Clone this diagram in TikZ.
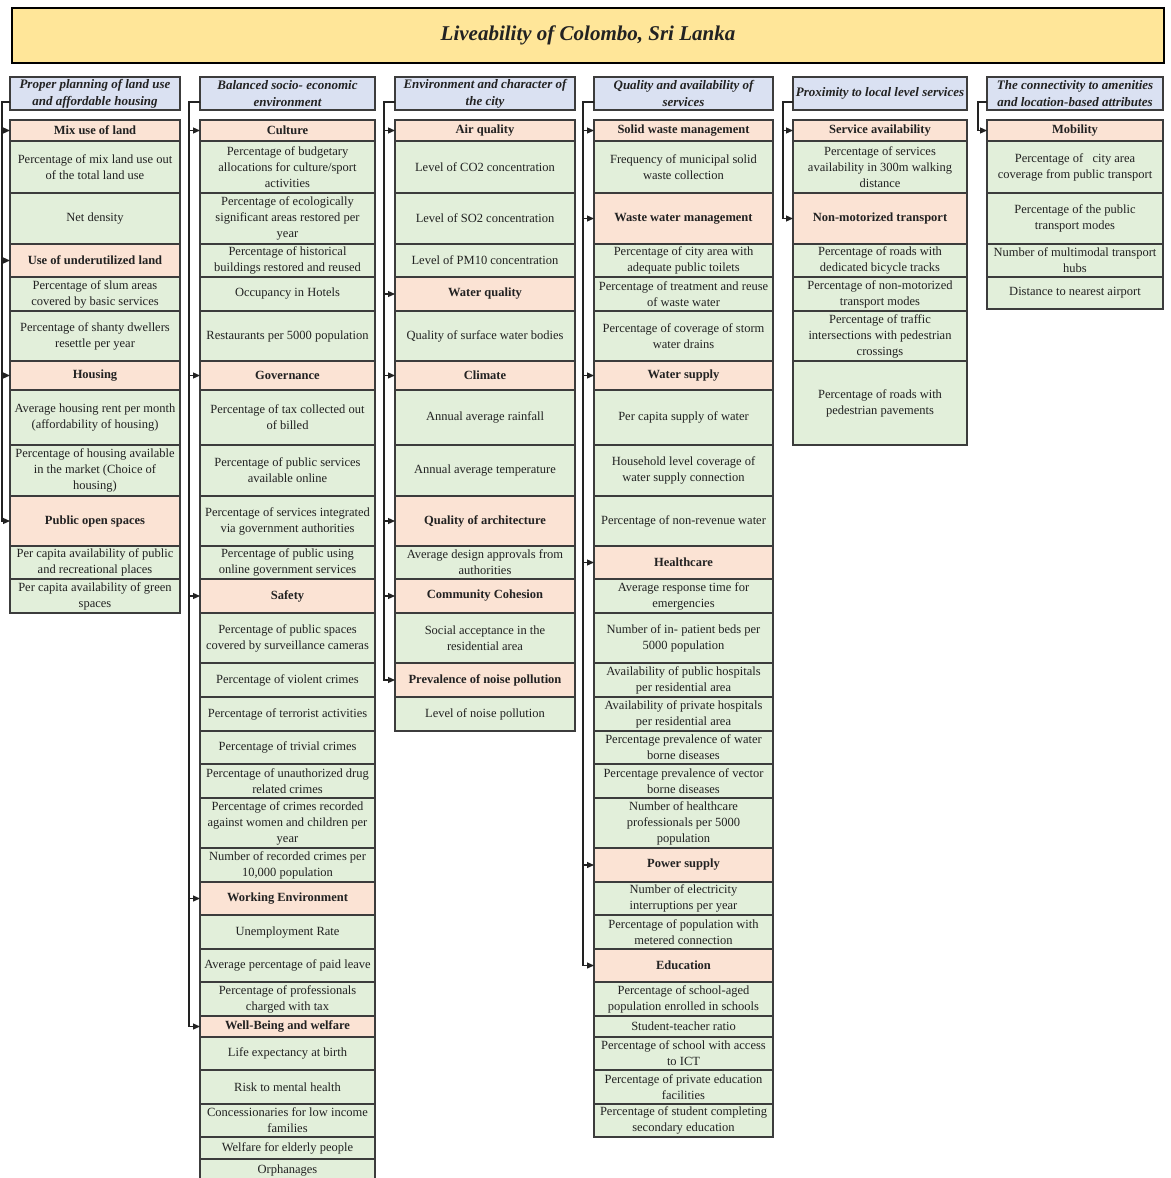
\documentclass[tikz,border=0pt]{standalone}
\usepackage{fontspec}
\setmainfont{Liberation Serif}
\usepackage{xcolor}
\usepackage{tikz}
\usetikzlibrary{arrows.meta,positioning}
\definecolor{TitleGold}{HTML}{FFE699}
\definecolor{HeadBlue}{HTML}{DAE1F2}
\definecolor{CatPeach}{HTML}{FBE3D4}
\definecolor{ItemGreen}{HTML}{E2EFDA}
\definecolor{EdgeGray}{HTML}{3C3C3C}
\definecolor{InkGray}{HTML}{222222}
\tikzset{
  titlebox/.style={draw=black,line width=1.8pt,fill=TitleGold,align=center,
              font=\fontsize{21}{25}\selectfont\bfseries\itshape,text=InkGray},
  headbox/.style={draw=EdgeGray,line width=1.2pt,fill=HeadBlue,align=center,
              minimum height=33,inner sep=0pt,outer sep=0pt,
              font=\fontsize{13}{17}\selectfont\bfseries\itshape,text=InkGray},
  catbox/.style={draw=EdgeGray,line width=1.2pt,fill=CatPeach,align=center,
              inner sep=0pt,outer sep=0pt,
              font=\fontsize{12.5}{16}\selectfont\bfseries,text=InkGray},
  itembox/.style={draw=EdgeGray,line width=1.2pt,fill=ItemGreen,align=center,
              inner sep=0pt,outer sep=0pt,
              font=\fontsize{12.5}{16}\selectfont,text=InkGray},
  ht/.style={minimum height=#1},
  flow/.style={-{Triangle[length=7pt,width=6pt]},line width=1.2pt,draw=InkGray}
}

\begin{document}
\begin{tikzpicture}[x=1pt,y=-1pt]
  \useasboundingbox (0,0) rectangle (1170,1178);

  \node[titlebox,minimum width=1152,minimum height=55] (title) at (588,35.5) {Liveability of Colombo, Sri Lanka};

  % column 1
  \begin{scope}[every node/.append style={minimum width=170}]
  \node[headbox] (h1) at (95,93.5) {Proper planning of land use\\and affordable housing};
  \node[catbox,ht=21,below=10pt of h1] (mixuse) {Mix use of land};
  \node[itembox,ht=52,below=0pt of mixuse] (mixpct) {Percentage of mix land use out\\of the total land use};
  \node[itembox,ht=51,below=0pt of mixpct] (netdens) {Net density};
  \node[catbox,ht=33,below=0pt of netdens] (underuse) {Use of underutilized land};
  \node[itembox,ht=34,below=0pt of underuse] (slum) {Percentage of slum areas\\covered by basic services};
  \node[itembox,ht=50,below=0pt of slum] (shanty) {Percentage of shanty dwellers\\resettle per year};
  \node[catbox,ht=29,below=0pt of shanty] (housing) {Housing};
  \node[itembox,ht=55,below=0pt of housing] (rent) {Average housing rent per month\\(affordability of housing)};
  \node[itembox,ht=51,below=0pt of rent] (choice) {Percentage of housing available\\in the market (Choice of\\housing)};
  \node[catbox,ht=50,below=0pt of choice] (openspace) {Public open spaces};
  \node[itembox,ht=33,below=0pt of openspace] (recplaces) {Per capita availability of public\\and recreational places};
  \node[itembox,ht=34,below=0pt of recplaces] (green) {Per capita availability of green\\spaces};
  \end{scope}

  % column 2
  \begin{scope}[every node/.append style={minimum width=175}]
  \node[headbox] (h2) at (287.5,93.5) {Balanced socio- economic\\environment};
  \node[catbox,ht=21,below=10pt of h2] (culture) {Culture};
  \node[itembox,ht=52,below=0pt of culture] (budget) {Percentage of budgetary\\allocations for culture/sport\\activities};
  \node[itembox,ht=51,below=0pt of budget] (ecolog) {Percentage of ecologically\\significant areas restored per\\year};
  \node[itembox,ht=33,below=0pt of ecolog] (historic) {Percentage of historical\\buildings restored and reused};
  \node[itembox,ht=34,below=0pt of historic] (hotels) {Occupancy in Hotels};
  \node[itembox,ht=50,below=0pt of hotels] (restaur) {Restaurants per 5000 population};
  \node[catbox,ht=29,below=0pt of restaur] (governance) {Governance};
  \node[itembox,ht=55,below=0pt of governance] (taxbill) {Percentage of tax collected out\\of billed};
  \node[itembox,ht=51,below=0pt of taxbill] (online) {Percentage of public services\\available online};
  \node[itembox,ht=50,below=0pt of online] (integr) {Percentage of services integrated\\via government authorities};
  \node[itembox,ht=33,below=0pt of integr] (egov) {Percentage of public using\\online government services};
  \node[catbox,ht=34,below=0pt of egov] (safety) {Safety};
  \node[itembox,ht=50,below=0pt of safety] (cctv) {Percentage of public spaces\\covered by surveillance cameras};
  \node[itembox,ht=34,below=0pt of cctv] (violent) {Percentage of violent crimes};
  \node[itembox,ht=34,below=0pt of violent] (terror) {Percentage of terrorist activities};
  \node[itembox,ht=33,below=0pt of terror] (trivial) {Percentage of trivial crimes};
  \node[itembox,ht=34,below=0pt of trivial] (drug) {Percentage of unauthorized drug\\related crimes};
  \node[itembox,ht=50,below=0pt of drug] (women) {Percentage of crimes recorded\\against women and children per\\year};
  \node[itembox,ht=34,below=0pt of women] (crimes) {Number of recorded crimes per\\10,000 population};
  \node[catbox,ht=33,below=0pt of crimes] (work) {Working Environment};
  \node[itembox,ht=34,below=0pt of work] (unemp) {Unemployment Rate};
  \node[itembox,ht=33,below=0pt of unemp] (leave) {Average percentage of paid leave};
  \node[itembox,ht=34,below=0pt of leave] (taxprof) {Percentage of professionals\\charged with tax};
  \node[catbox,ht=21,below=0pt of taxprof] (wellbeing) {Well-Being and welfare};
  \node[itembox,ht=33,below=0pt of wellbeing] (lifeexp) {Life expectancy at birth};
  \node[itembox,ht=34,below=0pt of lifeexp] (mental) {Risk to mental health};
  \node[itembox,ht=33,below=0pt of mental] (concess) {Concessionaries for low income\\families};
  \node[itembox,ht=22,below=0pt of concess] (elderly) {Welfare for elderly people};
  \node[itembox,ht=22,below=0pt of elderly] (orphan) {Orphanages};
  \end{scope}

  % column 3
  \begin{scope}[every node/.append style={minimum width=180}]
  \node[headbox] (h3) at (485,93.5) {Environment and character of\\the city};
  \node[catbox,ht=21,below=10pt of h3] (air) {Air quality};
  \node[itembox,ht=52,below=0pt of air] (co2) {Level of CO2 concentration};
  \node[itembox,ht=51,below=0pt of co2] (so2) {Level of SO2 concentration};
  \node[itembox,ht=33,below=0pt of so2] (pm10) {Level of PM10 concentration};
  \node[catbox,ht=34,below=0pt of pm10] (water) {Water quality};
  \node[itembox,ht=50,below=0pt of water] (surface) {Quality of surface water bodies};
  \node[catbox,ht=29,below=0pt of surface] (climate) {Climate};
  \node[itembox,ht=55,below=0pt of climate] (rain) {Annual average rainfall};
  \node[itembox,ht=51,below=0pt of rain] (temp) {Annual average temperature};
  \node[catbox,ht=50,below=0pt of temp] (arch) {Quality of architecture};
  \node[itembox,ht=33,below=0pt of arch] (design) {Average design approvals from\\authorities};
  \node[catbox,ht=34,below=0pt of design] (cohesion) {Community Cohesion};
  \node[itembox,ht=50,below=0pt of cohesion] (social) {Social acceptance in the\\residential area};
  \node[catbox,ht=34,below=0pt of social] (noise) {Prevalence of noise pollution};
  \node[itembox,ht=34,below=0pt of noise] (noiselvl) {Level of noise pollution};
  \end{scope}

  % column 4
  \begin{scope}[every node/.append style={minimum width=179}]
  \node[headbox] (h4) at (683.5,93.5) {Quality and availability of\\services};
  \node[catbox,ht=21,below=10pt of h4] (solid) {Solid waste management};
  \node[itembox,ht=52,below=0pt of solid] (msw) {Frequency of municipal solid\\waste collection};
  \node[catbox,ht=51,below=0pt of msw] (wastewater) {Waste water management};
  \node[itembox,ht=33,below=0pt of wastewater] (toilets) {Percentage of city area with\\adequate public toilets};
  \node[itembox,ht=34,below=0pt of toilets] (reuse) {Percentage of treatment and reuse\\of waste water};
  \node[itembox,ht=50,below=0pt of reuse] (drains) {Percentage of coverage of storm\\water drains};
  \node[catbox,ht=29,below=0pt of drains] (supply) {Water supply};
  \node[itembox,ht=55,below=0pt of supply] (percap) {Per capita supply of water};
  \node[itembox,ht=51,below=0pt of percap] (household) {Household level coverage of\\water supply connection};
  \node[itembox,ht=50,below=0pt of household] (nrw) {Percentage of non-revenue water};
  \node[catbox,ht=33,below=0pt of nrw] (health) {Healthcare};
  \node[itembox,ht=34,below=0pt of health] (response) {Average response time for\\emergencies};
  \node[itembox,ht=50,below=0pt of response] (beds) {Number of in- patient beds per\\5000 population};
  \node[itembox,ht=34,below=0pt of beds] (pubhosp) {Availability of public hospitals\\per residential area};
  \node[itembox,ht=34,below=0pt of pubhosp] (privhosp) {Availability of private hospitals\\per residential area};
  \node[itembox,ht=33,below=0pt of privhosp] (waterborne) {Percentage prevalence of water\\borne diseases};
  \node[itembox,ht=34,below=0pt of waterborne] (vector) {Percentage prevalence of vector\\borne diseases};
  \node[itembox,ht=50,below=0pt of vector] (staff) {Number of healthcare\\professionals per 5000\\population};
  \node[catbox,ht=34,below=0pt of staff] (power) {Power supply};
  \node[itembox,ht=33,below=0pt of power] (outages) {Number of electricity\\interruptions per year};
  \node[itembox,ht=34,below=0pt of outages] (metered) {Percentage of population with\\metered connection};
  \node[catbox,ht=33,below=0pt of metered] (education) {Education};
  \node[itembox,ht=34,below=0pt of education] (enrol) {Percentage of school-aged\\population enrolled in schools};
  \node[itembox,ht=21,below=0pt of enrol] (ratio) {Student-teacher ratio};
  \node[itembox,ht=33,below=0pt of ratio] (ict) {Percentage of school with access\\to ICT};
  \node[itembox,ht=34,below=0pt of ict] (private) {Percentage of private education\\facilities};
  \node[itembox,ht=33,below=0pt of private] (secondary) {Percentage of student completing\\secondary education};
  \end{scope}

  % column 5
  \begin{scope}[every node/.append style={minimum width=174}]
  \node[headbox] (h5) at (880,93.5) {Proximity to local level services};
  \node[catbox,ht=21,below=10pt of h5] (service) {Service availability};
  \node[itembox,ht=52,below=0pt of service] (walk) {Percentage of services\\availability in 300m walking\\distance};
  \node[catbox,ht=51,below=0pt of walk] (nonmotor) {Non-motorized transport};
  \node[itembox,ht=33,below=0pt of nonmotor] (bicycle) {Percentage of roads with\\dedicated bicycle tracks};
  \node[itembox,ht=34,below=0pt of bicycle] (nmtmodes) {Percentage of non-motorized\\transport modes};
  \node[itembox,ht=50,below=0pt of nmtmodes] (crossing) {Percentage of traffic\\intersections with pedestrian\\crossings};
  \node[itembox,ht=84,below=0pt of crossing] (pavement) {Percentage of roads with\\pedestrian pavements};
  \end{scope}

  % column 6
  \begin{scope}[every node/.append style={minimum width=176}]
  \node[headbox] (h6) at (1075,93.5) {The connectivity to amenities\\and location-based attributes};
  \node[catbox,ht=21,below=10pt of h6] (mobility) {Mobility};
  \node[itembox,ht=52,below=0pt of mobility] (coverage) {Percentage of \ \ city area\\coverage from public transport};
  \node[itembox,ht=51,below=0pt of coverage] (ptmodes) {Percentage of the public\\transport modes};
  \node[itembox,ht=33,below=0pt of ptmodes] (hubs) {Number of multimodal transport\\hubs};
  \node[itembox,ht=32,below=0pt of hubs] (airport) {Distance to nearest airport};
  \end{scope}

  % header to category links
  \draw[flow] ([yshift=8pt]h1.south west) -- ++(-8,0) |- (mixuse.west);
  \draw[flow] ([yshift=8pt]h1.south west) -- ++(-8,0) |- (underuse.west);
  \draw[flow] ([yshift=8pt]h1.south west) -- ++(-8,0) |- (housing.west);
  \draw[flow] ([yshift=8pt]h1.south west) -- ++(-8,0) |- (openspace.west);

  \draw[flow] ([yshift=8pt]h2.south west) -- ++(-11,0) |- (culture.west);
  \draw[flow] ([yshift=8pt]h2.south west) -- ++(-11,0) |- (governance.west);
  \draw[flow] ([yshift=8pt]h2.south west) -- ++(-11,0) |- (safety.west);
  \draw[flow] ([yshift=8pt]h2.south west) -- ++(-11,0) |- (work.west);
  \draw[flow] ([yshift=8pt]h2.south west) -- ++(-11,0) |- (wellbeing.west);

  \draw[flow] ([yshift=8pt]h3.south west) -- ++(-11,0) |- (air.west);
  \draw[flow] ([yshift=8pt]h3.south west) -- ++(-11,0) |- (water.west);
  \draw[flow] ([yshift=8pt]h3.south west) -- ++(-11,0) |- (climate.west);
  \draw[flow] ([yshift=8pt]h3.south west) -- ++(-11,0) |- (arch.west);
  \draw[flow] ([yshift=8pt]h3.south west) -- ++(-11,0) |- (cohesion.west);
  \draw[flow] ([yshift=8pt]h3.south west) -- ++(-11,0) |- (noise.west);

  \draw[flow] ([yshift=8pt]h4.south west) -- ++(-11,0) |- (solid.west);
  \draw[flow] ([yshift=8pt]h4.south west) -- ++(-11,0) |- (wastewater.west);
  \draw[flow] ([yshift=8pt]h4.south west) -- ++(-11,0) |- (supply.west);
  \draw[flow] ([yshift=8pt]h4.south west) -- ++(-11,0) |- (health.west);
  \draw[flow] ([yshift=8pt]h4.south west) -- ++(-11,0) |- (power.west);
  \draw[flow] ([yshift=8pt]h4.south west) -- ++(-11,0) |- (education.west);

  \draw[flow] ([yshift=8pt]h5.south west) -- ++(-10,0) |- (service.west);
  \draw[flow] ([yshift=8pt]h5.south west) -- ++(-10,0) |- (nonmotor.west);

  \draw[flow] ([yshift=8pt]h6.south west) -- ++(-9,0) |- (mobility.west);
\end{tikzpicture}
\end{document}
